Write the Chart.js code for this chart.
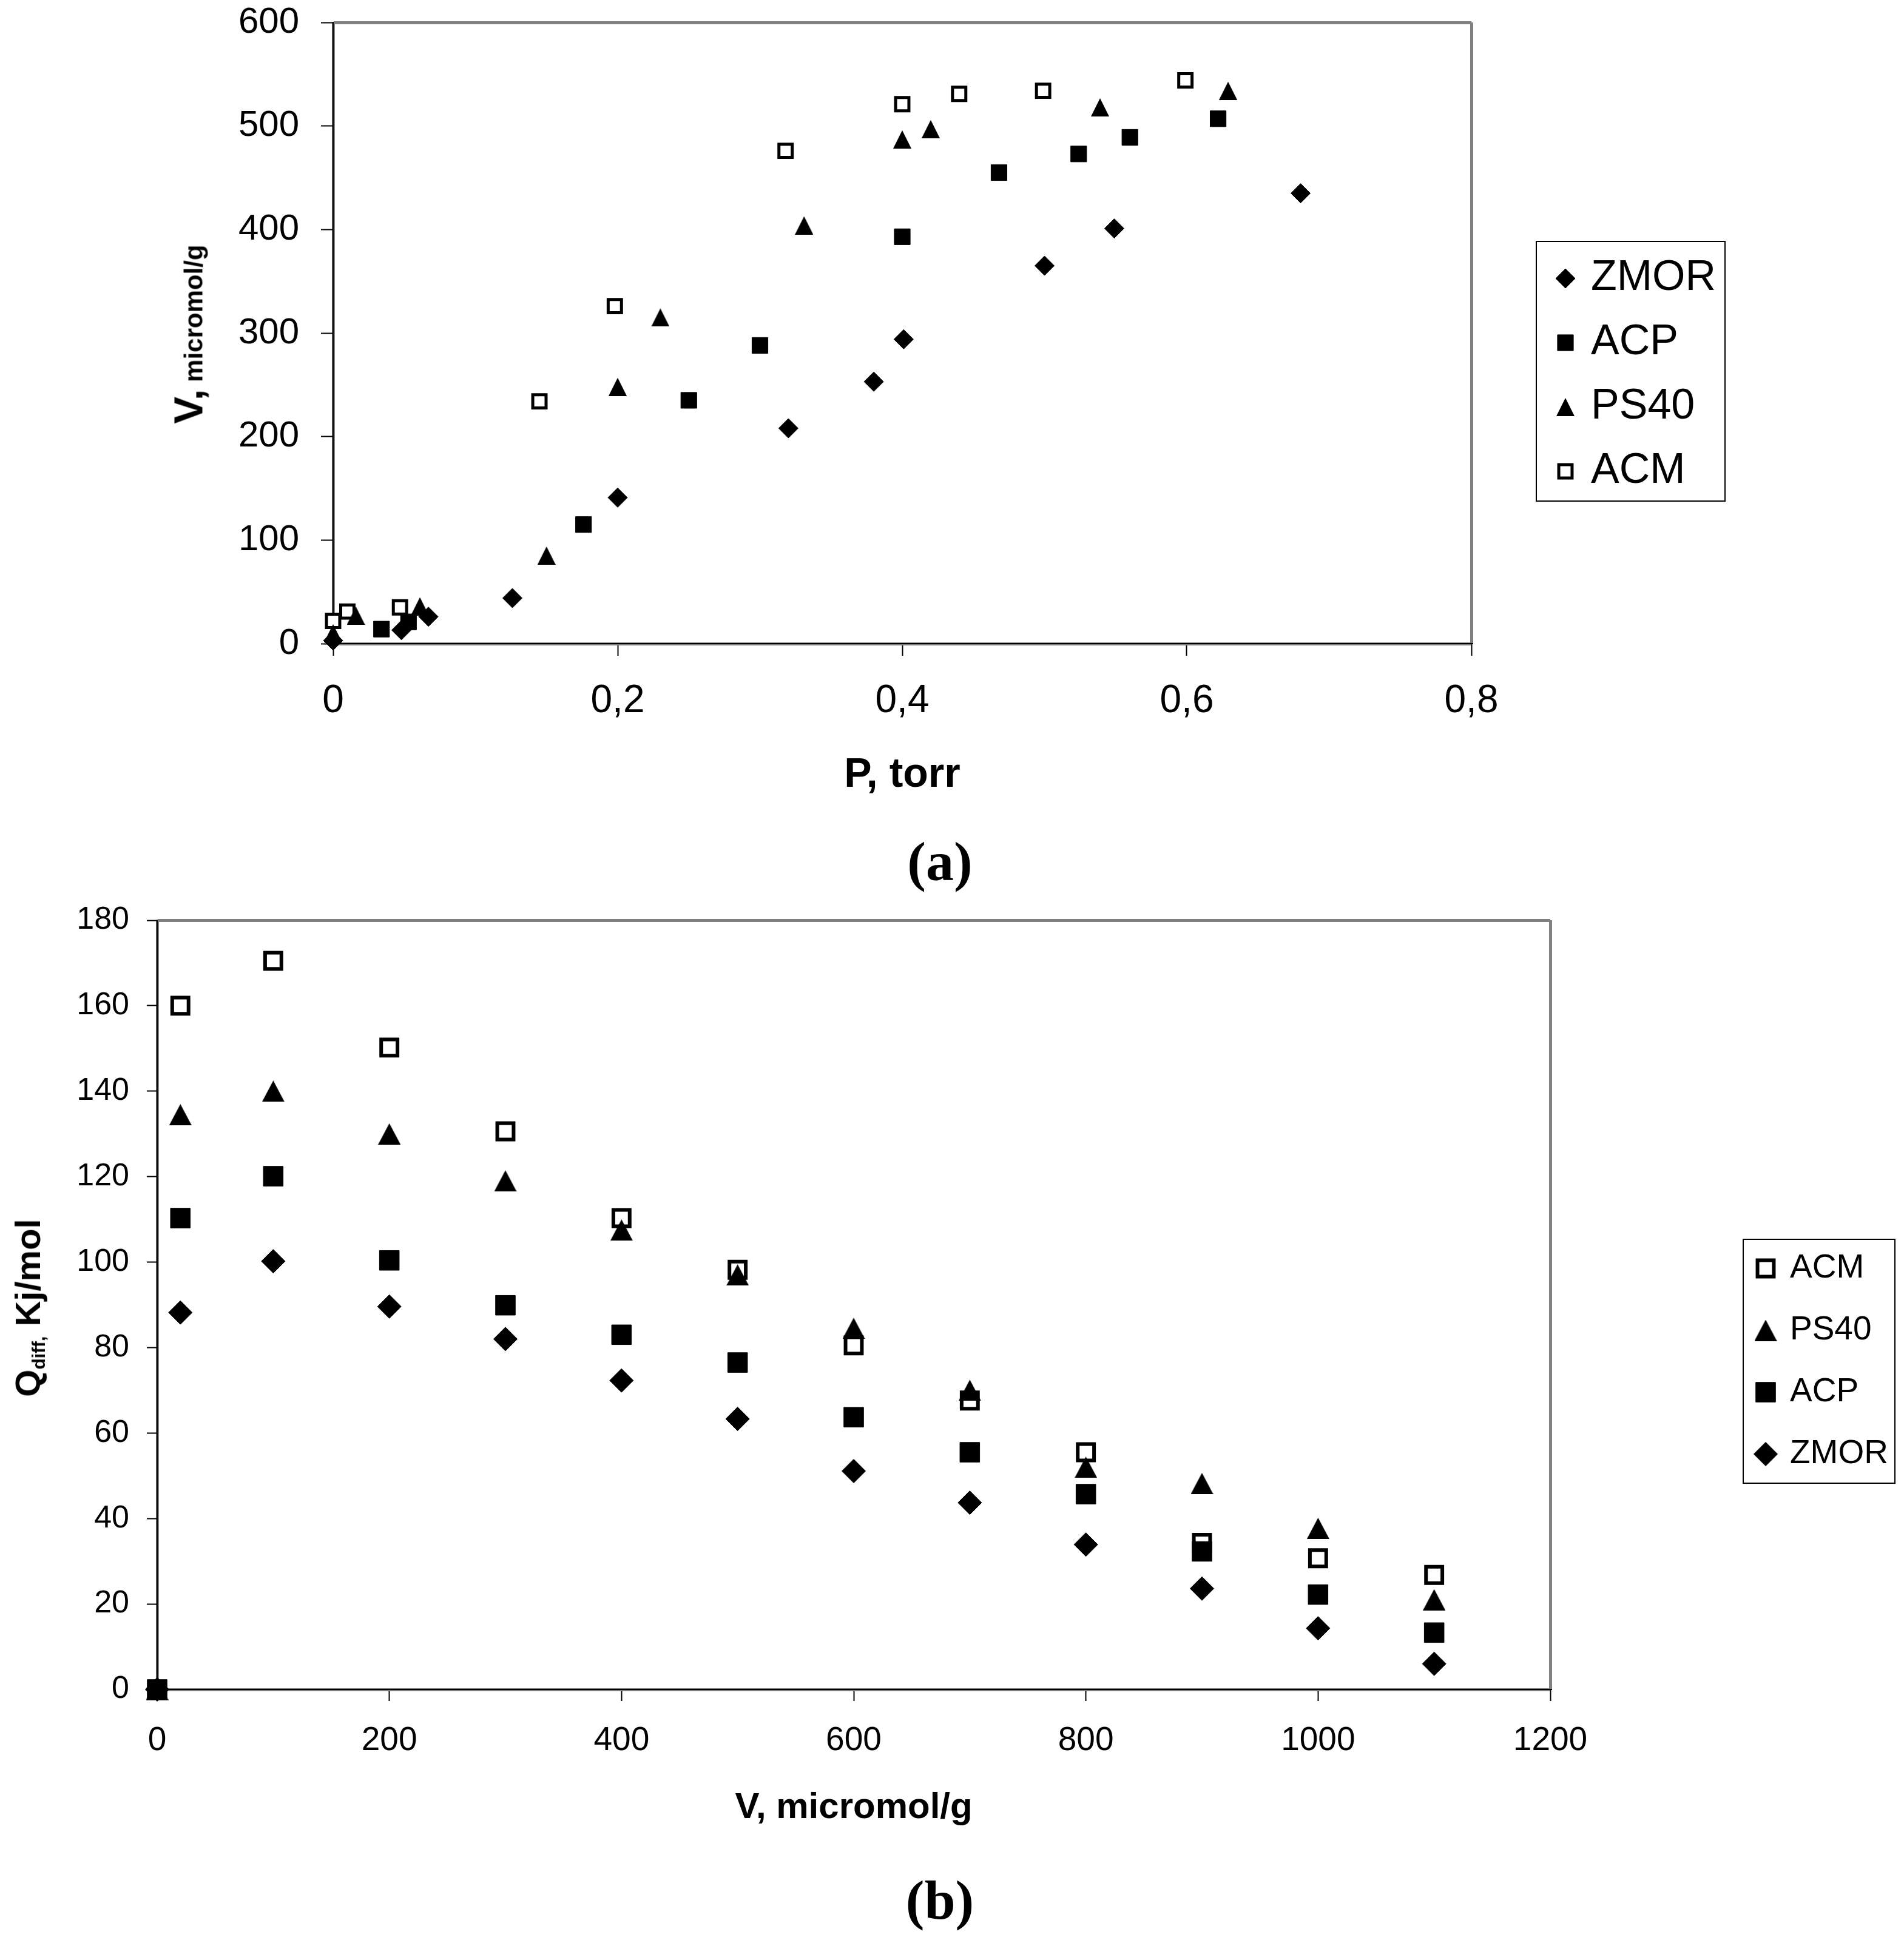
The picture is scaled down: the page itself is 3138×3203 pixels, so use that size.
<!DOCTYPE html>
<html>
<head>
<meta charset="utf-8">
<script src="https://cdn.jsdelivr.net/npm/chart.js@4.4.1/dist/chart.umd.min.js"></script>
<style>
  html, body { margin: 0; padding: 0; background: #fff; }
  body { width: 3138px; height: 3203px; position: relative; overflow: hidden; }
  canvas { position: absolute; left: 0; }
  #chartA { top: 0; }
  #chartB { top: 1460px; }
  .ytitle {
    position: absolute; white-space: nowrap; color: #000;
    font-family: "Liberation Sans", Arial, sans-serif; font-weight: bold;
    transform: translate(-50%, -50%) rotate(-90deg);
  }
  .panel {
    position: absolute; color: #000; white-space: nowrap;
    font-family: "Liberation Serif", "Times New Roman", serif; font-weight: bold;
    font-size: 92px; line-height: 1; transform: translate(-50%, -50%);
  }
</style>
</head>
<body>
<canvas id="chartA" width="3138" height="1460"></canvas>
<canvas id="chartB" width="3138" height="1743"></canvas>

<div class="ytitle" style="left:310px; top:551px; font-size:67px; line-height:67px;">V,<span style="font-size:42px; line-height:1;"> micromol/g</span></div>
<div class="ytitle" style="left:46px; top:2156px; font-size:58px; line-height:58px;">Q<span style="font-size:30px; line-height:1; position:relative; top:8px;">diff,</span> Kj/mol</div>

<div class="panel" style="left:1549px; top:1420px;">(a)</div>
<div class="panel" style="left:1549px; top:3132px;">(b)</div>

<script>
// ===== Datos (a): V vs P =====
const pZMOR = [0, 0.048, 0.067, 0.126, 0.2, 0.32, 0.38, 0.401, 0.5, 0.549, 0.68];
const vZMOR = [3, 13, 26, 44, 141, 208, 253, 294, 365, 401, 435];

const pACP = [0.034, 0.053, 0.176, 0.25, 0.3, 0.4, 0.468, 0.524, 0.56, 0.622];
const vACP = [14, 21, 115, 235, 288, 393, 455, 473, 489, 507];

const pPS40 = [0, 0.016, 0.061, 0.15, 0.2, 0.23, 0.331, 0.4, 0.42, 0.539, 0.629];
const vPS40 = [10, 27, 36, 85, 248, 315, 404, 487, 497, 518, 534];

const pACM = [0, 0.01, 0.047, 0.145, 0.198, 0.318, 0.4, 0.44, 0.499, 0.599];
const vACM = [22, 31, 35, 234, 326, 476, 521, 531, 534, 544];

// ===== Datos (b): Qdiff vs V =====
const vQ = [0, 20, 100, 200, 300, 400, 500, 600, 700, 800, 900, 1000, 1100];
const vQacm = [20, 100, 200, 300, 400, 500, 600, 700, 800, 900, 1000, 1100];
const qACM = [160, 170.5, 150.2, 130.6, 110.3, 98.2, 80.5, 67.6, 55.5, 34.3, 30.7, 26.8];
const qPS40 = [0, 134.5, 140, 130, 119, 107.5, 97, 84.5, 70, 52, 48.2, 37.7, 21];
const qACP = [0, 110.3, 120.1, 100.4, 89.9, 83, 76.5, 63.7, 55.5, 45.7, 32.3, 22.2, 13.3];
const qZMOR = [0, 88.2, 100.2, 89.6, 82, 72.3, 63.3, 51.1, 43.7, 33.9, 23.6, 14.3, 6];

const ticksA_x = [0, 0.2, 0.4, 0.6, 0.8];
const ticksA_y = [0, 100, 200, 300, 400, 500, 600];
const ticksB_x = [0, 200, 400, 600, 800, 1000, 1200];
const ticksB_y = [0, 20, 40, 60, 80, 100, 120, 140, 160, 180];

const SANS = '"Liberation Sans", Arial, sans-serif';
const GRIS = "#808080";

function puntos(xs, ys) {
  return xs.map((x, i) => ({ x: x, y: ys[i] }));
}

// triangulo tipo Excel (tan alto como ancho)
function triangulo(w, h) {
  const c = document.createElement("canvas");
  c.width = w; c.height = h;
  const g = c.getContext("2d");
  g.fillStyle = "#000";
  g.beginPath();
  g.moveTo(w / 2, 0);
  g.lineTo(w, h);
  g.lineTo(0, h);
  g.closePath();
  g.fill();
  return c;
}

// leyenda con recuadro, dibujada con los mismos marcadores de la serie
const leyendaCaja = {
  id: "leyendaCaja",
  afterDraw(chart, args, o) {
    const ctx = chart.ctx;
    ctx.save();
    ctx.lineWidth = 2;
    ctx.strokeStyle = "#000";
    ctx.strokeRect(o.x, o.y, o.w, o.h);
    ctx.font = o.font;
    ctx.textBaseline = "middle";
    o.orden.forEach((idx, k) => {
      const ds = chart.data.datasets[idx];
      const y = o.y0 + k * o.paso;
      ctx.fillStyle = ds.backgroundColor;
      ctx.strokeStyle = ds.borderColor;
      ctx.lineWidth = ds.borderWidth;
      Chart.helpers.drawPoint(ctx, {
        pointStyle: ds.pointStyle, radius: ds.pointRadius,
        borderWidth: ds.borderWidth, rotation: 0
      }, o.mx, y);
      ctx.fillStyle = "#000";
      ctx.fillText(ds.label, o.tx, y);
    });
    ctx.restore();
  }
};

function ejes(cfg) {
  const borde = (c) => (c.index === 0 || c.index === c.scale.ticks.length - 1) ? GRIS : "rgba(0,0,0,0)";
  const eje = (min, max, lista, size, pad, tick, fmt, fit) => ({
    type: "linear", min: min, max: max,
    afterBuildTicks: (s) => { s.ticks = lista.map(v => ({ value: v })); },
    afterFit: fit,
    ticks: {
      autoSkip: false, maxRotation: 0, color: "#000", padding: pad,
      font: { family: SANS, size: size }, callback: fmt
    },
    grid: {
      color: borde, lineWidth: 5, drawTicks: true,
      tickColor: "#000", tickWidth: 2, tickLength: tick
    },
    border: { display: true, color: "#000", width: 2 }
  });
  const x = eje(cfg.xmin, cfg.xmax, cfg.xt, cfg.xFont, cfg.xPad, cfg.xTick, cfg.xFmt,
    (s) => { s.height = cfg.xH; s.paddingLeft = 0; s.paddingRight = 0; });
  x.title = {
    display: true, text: cfg.xTitle, color: "#000",
    font: { family: SANS, size: cfg.xTitleSize, weight: "bold" },
    padding: { top: 0, bottom: cfg.xTitlePad }
  };
  const y = eje(cfg.ymin, cfg.ymax, cfg.yt, cfg.yFont, cfg.yPad, cfg.yTick, (v) => v,
    (s) => { s.width = cfg.yW; s.paddingTop = 0; s.paddingBottom = 0; });
  return { x: x, y: y };
}

function serie(label, data, estilo, r, abierto, bw) {
  return {
    label: label, data: data, pointStyle: estilo, pointRadius: r,
    pointHoverRadius: r, backgroundColor: abierto ? "#fff" : "#000",
    borderColor: "#000", borderWidth: abierto ? bw : 1, clip: false
  };
}

document.addEventListener("DOMContentLoaded", () => {
  crearGraficoA();
  crearGraficoB();
});

function crearGraficoA() {
  const coma = (v) => v === 0 ? "0" : String(Math.round(v * 10) / 10).replace(".", ",");
  new Chart(document.getElementById("chartA"), {
    type: "scatter",
    data: {
      // el primer dataset queda encima
      datasets: [
        serie("ZMOR", puntos(pZMOR, vZMOR), "rectRot", 16, false),
        serie("ACP", puntos(pACP, vACP), "rect", 18.5, false),
        serie("PS40", puntos(pPS40, vPS40), triangulo(30, 30), 16, false),
        serie("ACM", puntos(pACM, vACM), "rect", 15.5, true, 5)
      ]
    },
    options: {
      responsive: false, animation: false, events: [],
      layout: { padding: { left: 0, top: 37, right: 713, bottom: 0 } },
      scales: ejes({
        xmin: 0, xmax: 0.8, xt: ticksA_x, xFont: 64, xPad: 37, xTick: 20, xFmt: coma, xH: 399,
        xTitle: "P, torr", xTitleSize: 68, xTitlePad: 141,
        ymin: 0, ymax: 600, yt: ticksA_y, yFont: 60, yPad: 36, yTick: 20, yW: 549
      }),
      plugins: {
        legend: { display: false }, tooltip: { enabled: false },
        leyendaCaja: {
          x: 2532, y: 398, w: 311, h: 428, y0: 459, paso: 106,
          mx: 2580, tx: 2622, font: "70px " + SANS, orden: [0, 1, 2, 3]
        }
      }
    },
    plugins: [leyendaCaja]
  });
}

function crearGraficoB() {
  new Chart(document.getElementById("chartB"), {
    type: "scatter",
    data: {
      datasets: [
        serie("ZMOR", puntos(vQ, qZMOR), "rectRot", 19.5, false),
        serie("ACP", puntos(vQ, qACP), "rect", 23, false),
        serie("PS40", puntos(vQ, qPS40), triangulo(37, 35), 20, false),
        serie("ACM", puntos(vQacm, qACM), "rect", 19, true, 6)
      ]
    },
    options: {
      responsive: false, animation: false, events: [],
      layout: { padding: { left: 0, top: 57, right: 583, bottom: 0 } },
      scales: ejes({
        xmin: 0, xmax: 1200, xt: ticksB_x, xFont: 55, xPad: 33, xTick: 19, xFmt: (v) => v, xH: 418,
        xTitle: "V, micromol/g", xTitleSize: 60, xTitlePad: 187,
        ymin: 0, ymax: 180, yt: ticksB_y, yFont: 52, yPad: 29, yTick: 17, yW: 259
      }),
      plugins: {
        legend: { display: false }, tooltip: { enabled: false },
        leyendaCaja: {
          x: 2873, y: 583, w: 250, h: 402, y0: 631, paso: 102,
          mx: 2910, tx: 2950, font: "55px " + SANS, orden: [3, 2, 1, 0]
        }
      }
    },
    plugins: [leyendaCaja]
  });
}
</script>
</body>
</html>
